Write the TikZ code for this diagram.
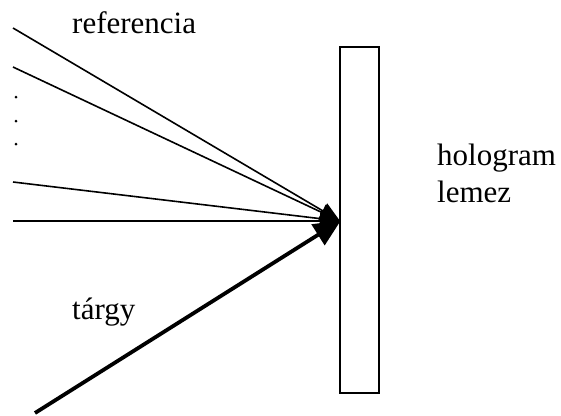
\documentclass[tikz,border=0pt]{standalone}
\usepackage{fontspec}
\setmainfont{Liberation Serif}
\usetikzlibrary{arrows.meta}
\tikzset{
  ray/.style={line width=1.6pt,-{Triangle[length=20pt,width=17pt]}},
  objray/.style={line width=3.8pt,-{Triangle[length=27pt,width=24pt]},shorten >=-1pt},
  plate/.style={draw,line width=1.5pt},
  lbl/.style={font=\fontsize{31pt}{37pt}\selectfont,inner sep=0pt,anchor=base west},
  dotmark/.style={circle,fill,inner sep=0pt,minimum size=3pt}
}
\begin{document}
\begin{tikzpicture}[x=1pt,y=-1pt]
\useasboundingbox (0,0) rectangle (561,415);
\draw[plate] (340,47) rectangle (379,393);
\coordinate (tip) at (340,221);
\coordinate (r1) at (13,28);
\coordinate (r2) at (13,67);
\coordinate (r3) at (13,182);
\coordinate (r4) at (13,221);
\coordinate (o) at (35,413);
\node[dotmark] (d1) at (16,97) {};
\node[dotmark] (d2) at (16,121) {};
\node[dotmark] (d3) at (16,144) {};
\draw[ray] (r1) -- (tip);
\draw[ray] (r2) -- (tip);
\draw[ray] (r3) -- (tip);
\draw[ray] (r4) -- (tip);
\draw[objray] (o) -- (tip);
\node[lbl] (ref) at (72,33) {referencia};
\node[lbl] (holo) at (437,165) {hologram};
\node[lbl] (lem) at (437,202) {lemez};
\node[lbl] (tar) at (72,319) {tárgy};
\end{tikzpicture}
\end{document}
